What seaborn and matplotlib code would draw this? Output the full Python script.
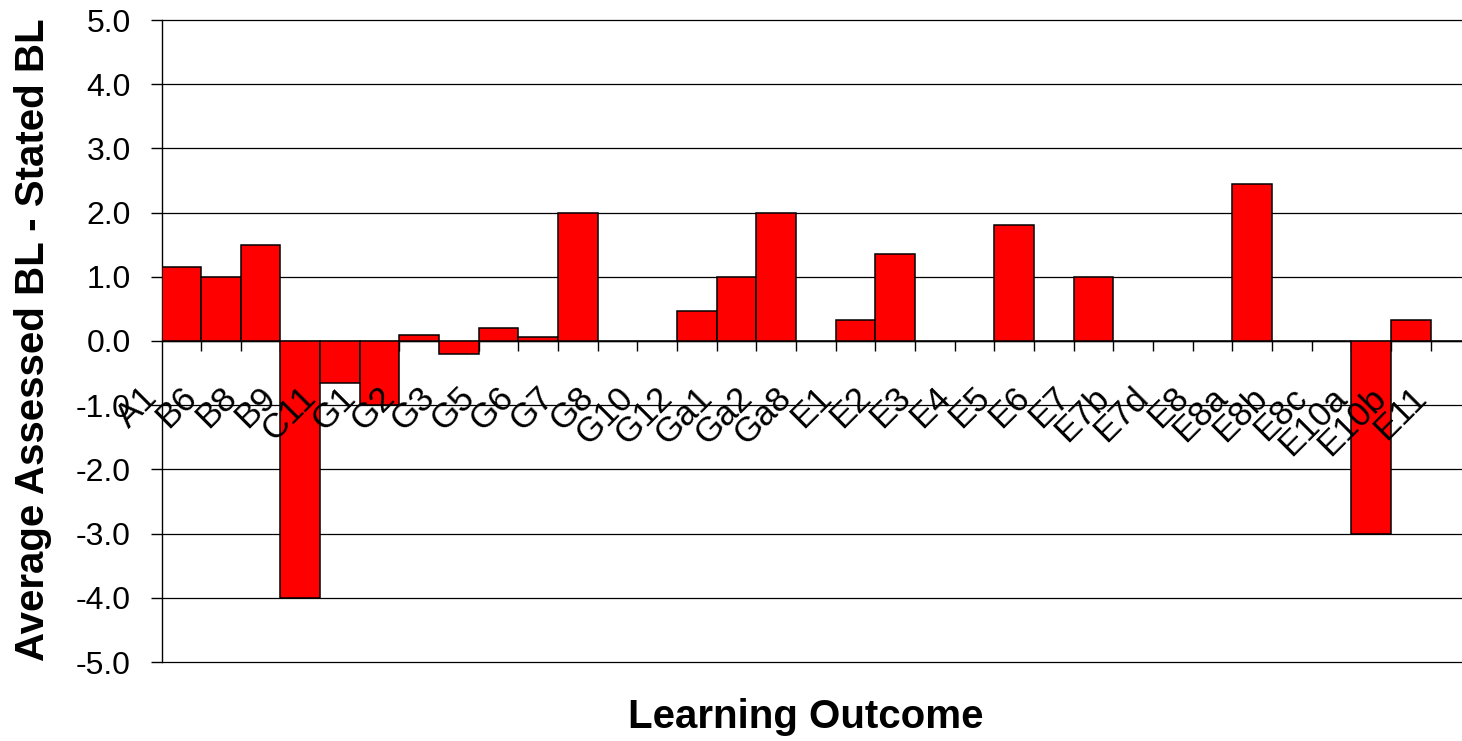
import matplotlib
matplotlib.use("Agg")
import matplotlib.pyplot as plt
from matplotlib.ticker import FixedLocator, FormatStrFormatter
import seaborn as sns

# Learning outcomes along the category axis
outcomes = ["A1", "B6", "B8", "B9", "C11", "G1", "G2", "G3", "G5", "G6", "G7",
            "G8", "G10", "G12", "Ga1", "Ga2", "Ga8", "E1", "E2", "E3", "E4",
            "E5", "E6", "E7", "E7b", "E7d", "E8", "E8a", "E8b", "E8c", "E10a",
            "E10b", "E11"]

# Average assessed Bloom level minus stated Bloom level
differences = [1.15, 1.0, 1.5, -4.0, -0.65, -1.0, 0.1, -0.2, 0.2, 0.07, 2.0,
               0.0, 0.0, 0.47, 1.0, 2.0, 0.0, 0.33, 1.35, 0.0, 0.0,
               1.8, 0.0, 1.0, 0.0, 0.0, 0.0, 2.45, 0.0, 0.0, -3.0,
               0.33, 0.0]

y_ticks = [-5.0, -4.0, -3.0, -2.0, -1.0, 0.0, 1.0, 2.0, 3.0, 4.0, 5.0]

sns.set_theme(style="white")
plt.rcParams["font.family"] = ["Liberation Sans", "DejaVu Sans"]
plt.rcParams["axes.unicode_minus"] = False

W, H = 1462, 741
fig = plt.figure(figsize=(W / 100, H / 100), dpi=100)
fig.patch.set_facecolor("white")

left, right, top, bottom = 161.5, 1470.3, 20, 662
ax = fig.add_axes([left / W, (H - bottom) / H, (right - left) / W, (bottom - top) / H])
ax.set_facecolor("white")

sns.barplot(x=outcomes, y=differences, order=outcomes, color="#ff0000",
            saturation=1, edgecolor="black", linewidth=1.1, width=1.0, ax=ax,
            zorder=3)

n = len(outcomes)
ax.set_xlim(-0.5, n - 0.5)
ax.set_ylim(y_ticks[0], y_ticks[-1])

# Horizontal gridlines at every unit
ax.yaxis.set_major_locator(FixedLocator(y_ticks))
ax.yaxis.set_major_formatter(FormatStrFormatter("%.1f"))
ax.grid(axis="y", color="black", linewidth=0.9, zorder=0)
ax.grid(axis="x", visible=False)
ax.set_axisbelow(True)
for gl in ax.get_ygridlines():
    gl.set_clip_on(False)

for side in ["top", "right"]:
    ax.spines[side].set_visible(False)
ax.spines["left"].set_color("black")
ax.spines["left"].set_linewidth(1.0)
ax.spines["bottom"].set_position(("data", 0))
ax.spines["bottom"].set_color("black")
ax.spines["bottom"].set_linewidth(1.0)

ax.tick_params(axis="y", which="major", left=True, length=8, width=1.0,
               color="black", direction="out", pad=14, labelsize=23,
               labelcolor="black")

# Category ticks sit between the bars, below the zero line
ax.xaxis.set_major_locator(FixedLocator([i + 0.5 for i in range(n - 1)]))
ax.tick_params(axis="x", which="major", bottom=True, length=7, width=1.0,
               color="black", direction="out", labelbottom=False)
ax.set_xlabel("")
ax.set_ylabel("")

# Rotated category labels
for i, name in enumerate(outcomes):
    ax.text(i - 0.45, -0.62, name, rotation=45, ha="right", va="top",
            fontsize=25, color="black", zorder=6, clip_on=False)

fig.text(33 / W, 1 - 340 / H, "Average Assessed BL - Stated BL", rotation=90,
         ha="center", va="center", fontsize=29, fontweight="bold", color="black")
fig.text(806 / W, 1 - 728 / H, "Learning Outcome", ha="center", va="baseline",
         fontsize=29, fontweight="bold", color="black")

fig.savefig("out.png", dpi=100, facecolor="white")
